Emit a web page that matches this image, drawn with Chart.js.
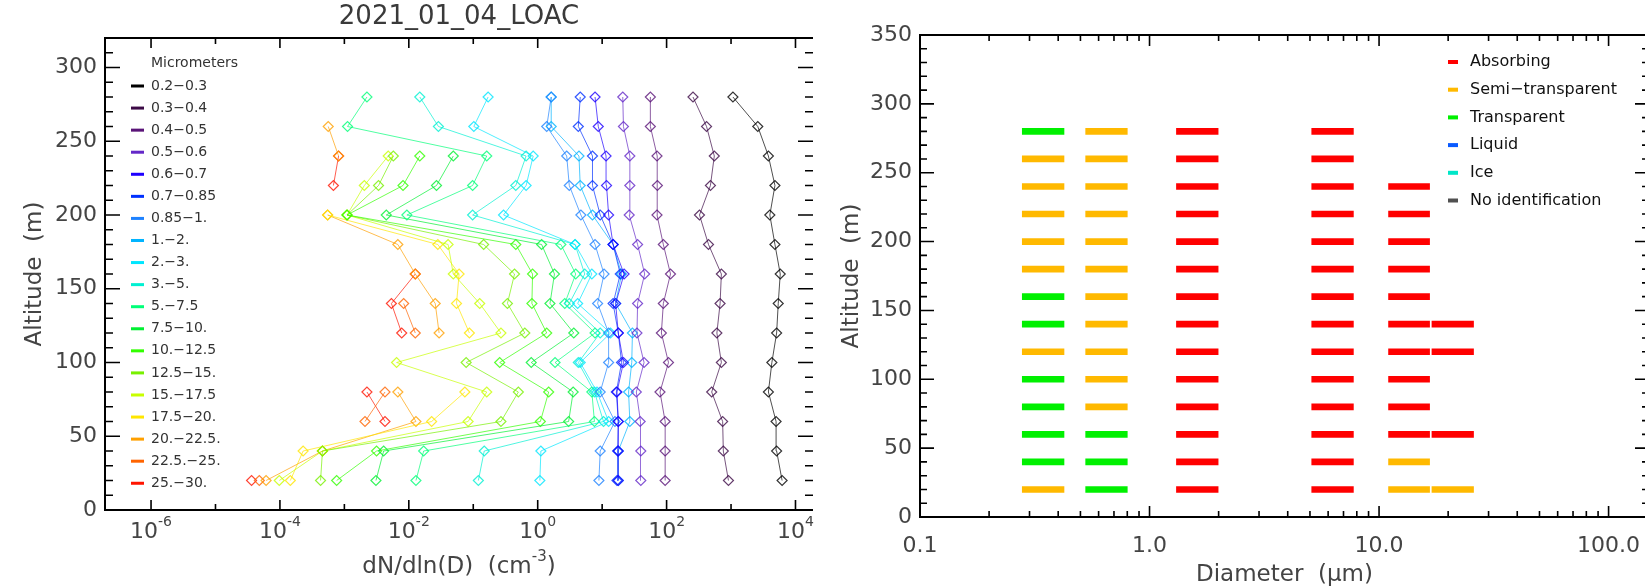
<!DOCTYPE html>
<html>
<head>
<meta charset="utf-8">
<script src="https://cdn.jsdelivr.net/npm/chart.js@4.4.0/dist/chart.umd.min.js"></script>
<style>
    html, body { margin: 0; padding: 0; background: #ffffff; width: 1645px; height: 587px; overflow: hidden; }
    #grafico_loac { position: absolute; left: 0; top: 0; }
    #grafico_tipos { position: absolute; left: 820px; top: 0; }
</style>
</head>
<body>
<canvas id="grafico_loac" width="830" height="587"></canvas>
<canvas id="grafico_tipos" width="900" height="587"></canvas>
<script>
// altitudes (m) das medidas, de baixo para cima
let altitudes = [20, 40, 60, 80, 100, 120, 140, 160, 180, 200, 220, 240, 260, 280];

let faixas = ["0.2−0.3", "0.3−0.4", "0.4−0.5", "0.5−0.6", "0.6−0.7", "0.7−0.85", "0.85−1.", "1.−2.", "2.−3.", "3.−5.",
    "5.−7.5", "7.5−10.", "10.−12.5", "12.5−15.", "15.−17.5", "17.5−20.", "20.−22.5.", "22.5.−25.", "25.−30."];

let coresFaixas = ["#000000", "#3c0a46", "#5a1478", "#6428c8", "#1e00ff", "#0030ff", "#1e82ff", "#00b4ff", "#00e6ff", "#00f0d2",
    "#00ff78", "#00f032", "#32ff00", "#78f000", "#c8ff00", "#ffe600", "#ffa000", "#ff6400", "#ff1400"];

// dN/dln(D) em cm-3 (null = sem ponto)
let conc_0_2 = [6.2e3, 5.1e3, 5.0e3, 3.8e3, 4.3e3, 5.1e3, 5.4e3, 5.8e3, 4.8e3, 4.0e3, 4.8e3, 3.8e3, 2.6e3, 1.07e3];
let conc_0_3 = [912, 759, 741, 501, 708, 603, 676, 708, 447, 324, 479, 550, 417, 257];
let conc_0_4 = [95, 95, 95, 79, 107, 83, 89, 115, 89, 71, 72, 71, 56, 56];
let conc_0_5 = [39.8, 39.8, 38.9, 33.9, 44.7, 34.7, 35.5, 45.7, 35.5, 26.3, 26.9, 26.9, 21.4, 20.9];
let conc_0_6 = [17.8, 17.8, 17.8, 17.0, 21.4, 17.8, 16.2, 21.9, 14.8, 12.6, 11.7, 11.5, 8.71, 7.76];
let conc_0_7 = [17.0, 17.4, 17.8, 16.6, 20.0, 17.8, 14.8, 19.1, 14.8, 9.33, 7.08, 7.08, 4.27, 4.57];
let conc_0_85 = [8.91, 9.33, 15.8, 9.33, 12.6, 12.6, 8.51, 10.7, 7.76, 4.68, 3.09, 2.82, 1.38, 1.62];
let conc_1 = [17.8, 17.8, 26.9, 25.7, 28.8, 29.5, 16.2, 20.0, 14.8, 7.08, 4.57, 4.37, 1.62, 1.62];
let conc_2 = [1.08, 1.12, 12.6, 8.32, 4.57, 13.5, 4.17, 6.92, 3.80, 0.295, 0.661, 0.851, 0.102, 0.170];
let conc_3 = [0.120, 0.148, 10.5, 7.59, 4.27, 9.33, 3.09, 5.37, 3.80, 0.0977, 0.457, 0.661, 0.0288, 0.0148];
let conc_5 = [0.0129, 0.0170, 7.59, 6.92, 1.86, 7.76, 2.63, 3.89, 2.29, 0.00933, 0.0977, 0.162, 0.00112, 0.00224];
let conc_7_5 = [0.00309, 0.00407, 3.02, 3.55, 0.794, 3.63, 1.55, 1.82, 1.15, 0.00447, 0.0269, 0.0490, null, null];
let conc_10 = [0.000759, 0.00316, 1.10, 1.48, 0.257, 1.38, 0.813, 0.832, 0.457, 0.00110, 0.00813, 0.0148, null, null];
let conc_12_5 = [0.000427, 0.000457, 0.269, 0.501, 0.0776, 0.631, 0.339, 0.437, 0.145, 0.00110, 0.00339, 0.00575, null, null];
let conc_15 = [0.0000977, 0.000457, 0.0832, 0.162, 0.00646, 0.269, 0.126, 0.0490, 0.0407, 0.00110, 0.00204, 0.00479, null, null];
let conc_17_5 = [0.000145, 0.000229, 0.0226, 0.0741, null, 0.0871, 0.0550, 0.0603, 0.0282, 0.000550, null, null, null, null];
let conc_20 = [0.0000610, 0.000457, 0.0129, 0.00676, null, 0.0295, 0.0257, 0.0126, 0.00676, 0.000550, null, 0.000813, 0.000562, null];
let conc_22_5 = [0.0000479, null, 0.00209, 0.00427, null, 0.0126, 0.00832, null, null, null, null, null, null, null];
let conc_25 = [0.0000363, null, 0.00427, 0.00224, null, 0.00776, 0.00537, 0.0126, null, null, 0.000676, 0.000813, null, null];

let series = [conc_0_2, conc_0_3, conc_0_4, conc_0_5, conc_0_6, conc_0_7, conc_0_85, conc_1, conc_2, conc_3,
    conc_5, conc_7_5, conc_10, conc_12_5, conc_15, conc_17_5, conc_20, conc_22_5, conc_25];

// eixos do primeiro gráfico
let ticksConc = [1e-6, 1e-4, 1e-2, 1, 1e2, 1e4];
let expoentesConc = ["-6", "-4", "-2", "0", "2", "4"];
let ticksConcMenores = [1e-5, 1e-3, 1e-1, 1e1, 1e3];
let ticksAltitude = [0, 50, 100, 150, 200, 250, 300];

// segundo gráfico: tipo de partícula por faixa de diâmetro
let tipos = ["Absorbing", "Semi−transparent", "Transparent", "Liquid", "Ice", "No identification"];
let coresTipos = ["#ff0000", "#ffb900", "#00f000", "#0a5aff", "#00e6c8", "#505050"];
let codigosTipos = ["A", "S", "T", "L", "I", "N"];

let diametroInicio = [0.279, 0.527, 1.31, 5.09, 11.0, 17.0];
let diametroFim = [0.424, 0.800, 1.99, 7.73, 16.6, 25.8];

// um código por altitude (20 a 280 m), "" = nada
let tipoFaixa1 = ["S", "T", "T", "T", "T", "S", "T", "T", "S", "S", "S", "S", "S", "T"];
let tipoFaixa2 = ["T", "T", "T", "S", "S", "S", "S", "S", "S", "S", "S", "S", "S", "S"];
let tipoFaixa3 = ["A", "A", "A", "A", "A", "A", "A", "A", "A", "A", "A", "A", "A", "A"];
let tipoFaixa4 = ["A", "A", "A", "A", "A", "A", "A", "A", "A", "A", "A", "A", "A", "A"];
let tipoFaixa5 = ["S", "S", "A", "A", "A", "A", "A", "A", "A", "A", "A", "A", "", ""];
let tipoFaixa6 = ["S", "", "A", "", "", "A", "A", "", "", "", "", "", "", ""];

let tiposPorFaixa = [tipoFaixa1, tipoFaixa2, tipoFaixa3, tipoFaixa4, tipoFaixa5, tipoFaixa6];

let ticksDiametro = [0.1, 1, 10, 100];
let rotulosDiametro = ["0.1", "1.0", "10.0", "100.0"];
let ticksDiametroMenores = [0.2, 0.3, 0.4, 0.5, 0.6, 0.7, 0.8, 0.9, 2, 3, 4, 5, 6, 7, 8, 9, 20, 30, 40, 50, 60, 70, 80, 90];
let ticksAltitude2 = [0, 50, 100, 150, 200, 250, 300, 350];

let fonte = "'DejaVu Sans', sans-serif";

function listaDe(inicio, fim, passo) {
    let lista = [];
    for (let v = inicio; v <= fim; v += passo) {
        lista.push(v);
    }
    return lista;
}

function escreverComExpoente(ctx, partes, xCentro, y, tamanho, tamanhoExp, subida) {
    let total = 0;
    for (let i = 0; i < partes.length; i++) {
        ctx.font = (partes[i].sup ? tamanhoExp : tamanho) + "px " + fonte;
        partes[i].w = ctx.measureText(partes[i].t).width;
        total += partes[i].w;
    }
    let x = xCentro - total / 2;
    ctx.textAlign = "left";
    for (let i = 0; i < partes.length; i++) {
        ctx.font = (partes[i].sup ? tamanhoExp : tamanho) + "px " + fonte;
        ctx.fillText(partes[i].t, x, partes[i].sup ? y - subida : y);
        x += partes[i].w;
    }
}

// caixa de eixos no estilo IDL: ticks para dentro, rótulos e títulos
let eixosIdl = {
    id: "eixosIdl",
    afterDraw: function (chart, args, op) {
        let ctx = chart.ctx;
        let area = chart.chartArea;
        let ex = chart.scales.x;
        let ey = chart.scales.y;

        ctx.save();
        ctx.strokeStyle = "#000000";
        ctx.lineWidth = 2;
        ctx.beginPath();
        ctx.moveTo(area.right, area.top);
        ctx.lineTo(area.left, area.top);
        ctx.lineTo(area.left, area.bottom);
        ctx.lineTo(area.right, area.bottom);
        if (op.ladoDireito) {
            ctx.lineTo(area.right, area.top);
        }
        ctx.stroke();

        ctx.lineWidth = 1.6;
        ctx.beginPath();
        for (let i = 0; i < op.xMaiores.length; i++) {
            let px = ex.getPixelForValue(op.xMaiores[i]);
            ctx.moveTo(px, area.bottom);
            ctx.lineTo(px, area.bottom - op.tickX[0]);
            ctx.moveTo(px, area.top);
            ctx.lineTo(px, area.top + op.tickX[0]);
        }
        for (let i = 0; i < op.xMenores.length; i++) {
            let px = ex.getPixelForValue(op.xMenores[i]);
            ctx.moveTo(px, area.bottom);
            ctx.lineTo(px, area.bottom - op.tickX[1]);
            ctx.moveTo(px, area.top);
            ctx.lineTo(px, area.top + op.tickX[1]);
        }
        for (let i = 0; i < op.yMaiores.length; i++) {
            let py = ey.getPixelForValue(op.yMaiores[i]);
            ctx.moveTo(area.left, py);
            ctx.lineTo(area.left + op.tickY[0], py);
            ctx.moveTo(area.right, py);
            ctx.lineTo(area.right - op.tickY[0], py);
        }
        for (let i = 0; i < op.yMenores.length; i++) {
            let py = ey.getPixelForValue(op.yMenores[i]);
            ctx.moveTo(area.left, py);
            ctx.lineTo(area.left + op.tickY[1], py);
            ctx.moveTo(area.right, py);
            ctx.lineTo(area.right - op.tickY[1], py);
        }
        ctx.stroke();

        ctx.fillStyle = op.corTexto;
        ctx.textBaseline = "middle";

        ctx.font = op.tamRotulo + "px " + fonte;
        ctx.textAlign = "right";
        for (let i = 0; i < op.yMaiores.length; i++) {
            ctx.fillText(String(op.yMaiores[i]), area.left - 8, ey.getPixelForValue(op.yMaiores[i]));
        }

        for (let i = 0; i < op.xMaiores.length; i++) {
            let px = ex.getPixelForValue(op.xMaiores[i]);
            let partes = [{ t: op.rotulosX[i], sup: false }];
            if (op.expoentesX) {
                partes.push({ t: op.expoentesX[i], sup: true });
            }
            escreverComExpoente(ctx, partes, px, op.yRotulosX, op.tamRotulo, 14, 10);
        }

        escreverComExpoente(ctx, op.tituloX, (area.left + area.right) / 2, op.yTituloX, op.tamTitulo, 15, 10);

        ctx.save();
        ctx.translate(op.xTituloY, (area.top + area.bottom) / 2);
        ctx.rotate(-Math.PI / 2);
        ctx.font = op.tamTitulo + "px " + fonte;
        ctx.textAlign = "center";
        ctx.fillText("Altitude  (m)", 0, 0);
        ctx.restore();

        if (op.titulo) {
            ctx.font = "26px " + fonte;
            ctx.textAlign = "center";
            ctx.fillStyle = "#3a3a3a";
            ctx.fillText(op.titulo, (area.left + area.right) / 2, 17);
        }

        // legenda
        let leg = op.legenda;
        ctx.textAlign = "left";
        if (leg.cabecalho) {
            ctx.font = leg.tamTexto + "px " + fonte;
            ctx.fillStyle = leg.corTexto;
            ctx.fillText(leg.cabecalho, leg.xTexto, leg.yCabecalho);
        }
        let datasets = chart.data.datasets;
        for (let i = 0; i < datasets.length; i++) {
            let y = leg.y0 + i * leg.passo;
            ctx.fillStyle = datasets[i].corLegenda;
            ctx.fillRect(leg.xLinha, y - leg.espessura / 2, leg.larguraLinha, leg.espessura);
            ctx.fillStyle = leg.corTexto;
            ctx.font = leg.tamTexto + "px " + fonte;
            ctx.fillText(datasets[i].label, leg.xTexto, y);
        }
        ctx.restore();
    }
};

function criarGraficoConcentracao() {
    let conjuntos = [];
    for (let s = 0; s < series.length; s++) {
        let pontos = [];
        for (let i = 0; i < altitudes.length; i++) {
            pontos.push({ x: series[s][i], y: altitudes[i] });
        }
        conjuntos.push({
            label: faixas[s],
            data: pontos,
            corLegenda: coresFaixas[s],
            borderColor: coresFaixas[s] + "b0",
            borderWidth: 1,
            pointStyle: "rectRot",
            pointRadius: 5,
            pointBorderWidth: 1.2,
            pointBorderColor: coresFaixas[s] + "cc",
            pointBackgroundColor: "rgba(0,0,0,0)",
            spanGaps: false,
            tension: 0
        });
    }

    new Chart(document.getElementById("grafico_loac"), {
        type: "line",
        data: { datasets: conjuntos },
        options: {
            responsive: false,
            animation: false,
            events: [],
            layout: { padding: { left: 105, top: 38, right: 17, bottom: 77 } },
            scales: {
                x: { type: "logarithmic", display: false, min: 1.93e-7, max: 1.87e4 },
                y: { type: "linear", display: false, min: 0, max: 320 }
            },
            plugins: {
                legend: { display: false },
                tooltip: { enabled: false },
                eixosIdl: {
                    ladoDireito: false,
                    xMaiores: ticksConc,
                    xMenores: ticksConcMenores,
                    rotulosX: ["10", "10", "10", "10", "10", "10"],
                    expoentesX: expoentesConc,
                    yMaiores: ticksAltitude,
                    yMenores: listaDe(10, 320, 10),
                    tickX: [10, 6],
                    tickY: [15, 8],
                    corTexto: "#444444",
                    tamRotulo: 22,
                    tamTitulo: 23,
                    yRotulosX: 532,
                    tituloX: [{ t: "dN/dln(D)  (cm", sup: false }, { t: "-3", sup: true }, { t: ")", sup: false }],
                    yTituloX: 567,
                    xTituloY: 35,
                    titulo: "2021_01_04_LOAC",
                    legenda: {
                        cabecalho: "Micrometers",
                        yCabecalho: 63,
                        xLinha: 131,
                        larguraLinha: 13,
                        espessura: 3,
                        xTexto: 151,
                        y0: 86,
                        passo: 22.07,
                        tamTexto: 14,
                        corTexto: "#333333"
                    }
                }
            }
        },
        plugins: [eixosIdl]
    });
}

function criarGraficoTipos() {
    let conjuntos = [];
    for (let t = 0; t < tipos.length; t++) {
        let barras = [];
        for (let f = 0; f < tiposPorFaixa.length; f++) {
            for (let i = 0; i < altitudes.length; i++) {
                if (tiposPorFaixa[f][i] == codigosTipos[t]) {
                    barras.push({ x: [diametroInicio[f], diametroFim[f]], y: altitudes[i] });
                }
            }
        }
        conjuntos.push({
            label: tipos[t],
            data: barras,
            corLegenda: coresTipos[t],
            backgroundColor: coresTipos[t],
            borderWidth: 0,
            barThickness: 6,
            grouped: false
        });
    }

    new Chart(document.getElementById("grafico_tipos"), {
        type: "bar",
        data: { datasets: conjuntos },
        options: {
            indexAxis: "y",
            responsive: false,
            animation: false,
            events: [],
            layout: { padding: { left: 100, top: 35, right: 71, bottom: 70 } },
            scales: {
                x: { type: "logarithmic", display: false, min: 0.1, max: 150 },
                y: { type: "linear", display: false, min: 0, max: 350, offset: false }
            },
            plugins: {
                legend: { display: false },
                tooltip: { enabled: false },
                eixosIdl: {
                    ladoDireito: true,
                    xMaiores: ticksDiametro,
                    xMenores: ticksDiametroMenores,
                    rotulosX: rotulosDiametro,
                    expoentesX: null,
                    yMaiores: ticksAltitude2,
                    yMenores: listaDe(10, 350, 10),
                    tickX: [11, 6],
                    tickY: [14, 7],
                    corTexto: "#444444",
                    tamRotulo: 22,
                    tamTitulo: 23,
                    yRotulosX: 546,
                    tituloX: [{ t: "Diameter  (", sup: false }, { t: "μ", sup: false }, { t: "m)", sup: false }],
                    yTituloX: 575,
                    xTituloY: 32,
                    titulo: null,
                    legenda: {
                        cabecalho: null,
                        xLinha: 628,
                        larguraLinha: 10,
                        espessura: 4,
                        xTexto: 650,
                        y0: 62,
                        passo: 27.7,
                        tamTexto: 16,
                        corTexto: "#111111"
                    }
                }
            }
        },
        plugins: [eixosIdl]
    });
}

criarGraficoConcentracao();
criarGraficoTipos();
</script>
</body>
</html>
